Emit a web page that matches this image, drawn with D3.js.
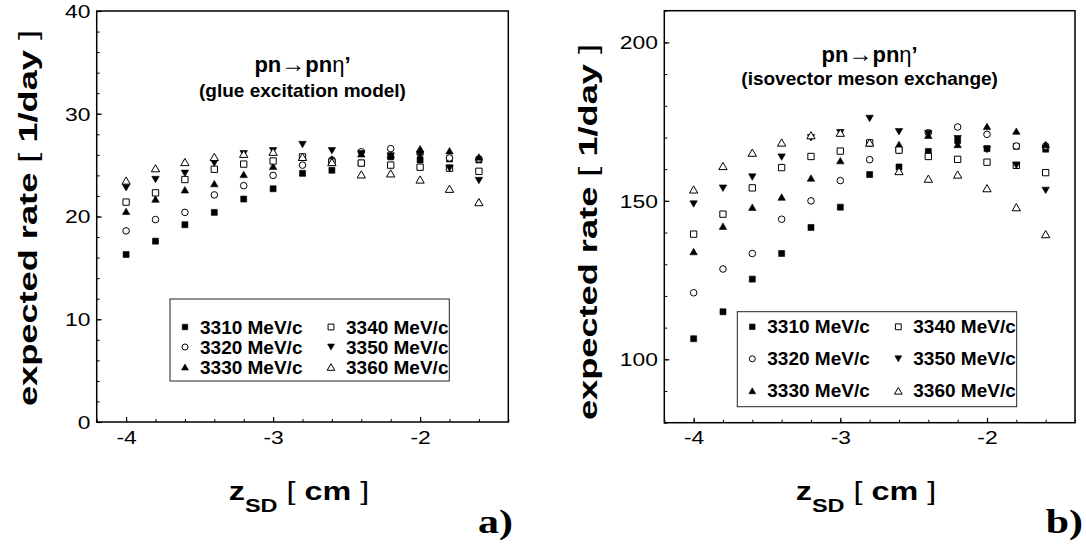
<!DOCTYPE html>
<html><head><meta charset="utf-8">
<script src="https://cdn.jsdelivr.net/npm/d3@7"></script>
<style>body{margin:0;background:#fff;} svg{display:block;background:#fff}</style>
</head><body>
<svg id="c" width="1086" height="547"></svg>
<script>
// ---------- data ----------
const zSD = [-4.0, -3.8, -3.6, -3.4, -3.2, -3.0, -2.8, -2.6, -2.4, -2.2, -2.0, -1.8, -1.6];
const beamMomenta = ["3310 MeV/c", "3320 MeV/c", "3330 MeV/c", "3340 MeV/c", "3350 MeV/c", "3360 MeV/c"];

// (a) glue excitation model
const glue3310 = [16.3, 17.6, 19.2, 20.4, 21.7, 22.7, 24.2, 24.5, 25.2, 25.8, 25.5, 25.6, 25.5];
const glue3320 = [18.6, 19.7, 20.4, 22.1, 23.0, 24.0, 25.0, 25.5, 26.3, 26.6, 26.1, 25.7, 25.6];
const glue3330 = [20.5, 21.7, 22.6, 23.2, 24.1, 24.9, 25.8, 25.6, 26.1, 26.0, 26.6, 26.4, 25.8];
const glue3340 = [21.4, 22.3, 23.6, 24.6, 25.1, 25.4, 25.8, 25.3, 25.2, 25.0, 24.8, 24.7, 24.4];
const glue3350 = [22.8, 23.6, 24.2, 25.2, 26.1, 26.4, 27.0, 26.4, 26.1, 25.9, 26.0, 24.7, 23.5];
const glue3360 = [23.5, 24.7, 25.3, 25.8, 26.1, 26.3, 25.8, 25.3, 24.1, 24.2, 23.6, 22.7, 21.4];

// (b) isovector meson exchange
const iso3310 = [106.5, 115.0, 125.3, 133.4, 141.6, 148.0, 158.3, 160.7, 165.6, 169.0, 166.5, 167.2, 166.3];
const iso3320 = [121.0, 128.5, 133.4, 144.2, 150.0, 156.4, 163.0, 166.0, 171.5, 173.3, 171.0, 167.3, 167.3];
const iso3330 = [134.0, 142.0, 148.0, 151.2, 157.2, 162.7, 168.3, 167.8, 170.7, 167.8, 173.5, 172.0, 167.8];
const iso3340 = [139.5, 145.8, 154.1, 160.5, 164.0, 165.7, 168.3, 166.0, 164.0, 163.1, 162.2, 161.2, 158.9];
const iso3350 = [149.0, 154.0, 157.5, 163.8, 169.9, 171.5, 176.0, 171.8, 171.2, 169.6, 166.2, 161.2, 153.3];
const iso3360 = [153.6, 161.0, 165.2, 168.4, 170.7, 171.5, 168.4, 159.4, 157.0, 158.3, 154.0, 148.0, 139.5];

const xTickLabels = [-4, -3, -2];
const yTicksGlue = [0, 10, 20, 30, 40];
const yTicksIso = [100, 150, 200];

// ---------- drawing ----------
const svg = d3.select("#c");
const SANS = "Arial, 'Liberation Sans', Helvetica, sans-serif";
const SERIF = "'Liberation Serif', 'Times New Roman', serif";
const STRETCH = 1.27;

const markerDefs = [
  {type: d3.symbolSquare,   size: 36, fill: true,  rot: 0},
  {type: d3.symbolCircle,   size: 34, fill: false, rot: 0},
  {type: d3.symbolTriangle, size: 24, fill: true,  rot: 0},
  {type: d3.symbolSquare,   size: 40, fill: false, rot: 0},
  {type: d3.symbolTriangle, size: 24, fill: true,  rot: 180},
  {type: d3.symbolTriangle, size: 30, fill: false, rot: 0}
];

function drawMarker(g, m, cx, cy, scale) {
  const s = m.size * (scale || 1);
  let off = 0;
  if (m.type === d3.symbolTriangle) {
    const yy = Math.sqrt(s / (3 * Math.sqrt(3)));
    off = yy / 2;
  }
  g.append("path")
    .attr("d", d3.symbol().type(m.type).size(s)())
    .attr("transform", `translate(${cx},${cy}) rotate(${m.rot}) translate(0,${off})`)
    .attr("fill", m.fill ? "#000" : "#fff")
    .attr("stroke", "#000")
    .attr("stroke-width", m.fill ? 0.6 : 1);
}

function drawPanel(cfg) {
  const g = svg.append("g");
  const x = d3.scaleLinear().domain([-4.2, -1.4]).range([cfg.left, cfg.right]);
  const y = d3.scaleLinear().domain(cfg.yDomain).range([cfg.bottom, cfg.top]);

  // minor ticks
  const xMinor = d3.range(-4.2, -1.39, 0.2).map(v => +v.toFixed(1));
  g.append("g").attr("transform", `translate(0,${cfg.bottom})`)
    .call(d3.axisBottom(x).tickValues(xMinor).tickSize(-3).tickFormat(""))
    .call(a => a.select(".domain").remove())
    .selectAll("line").attr("stroke", "#000").attr("stroke-width", 1);
  const yMinor = d3.range(cfg.yDomain[0], cfg.yDomain[1] + 0.001, cfg.yMinorStep);
  g.append("g").attr("transform", `translate(${cfg.left},0)`)
    .call(d3.axisLeft(y).tickValues(yMinor).tickSize(-3).tickFormat(""))
    .call(a => a.select(".domain").remove())
    .selectAll("line").attr("stroke", "#000").attr("stroke-width", 1);

  // major ticks + labels
  const xa = g.append("g").attr("transform", `translate(0,${cfg.bottom})`)
    .call(d3.axisBottom(x).tickValues(xTickLabels).tickSize(-5).tickPadding(9).tickFormat(d => String(d)))
    .call(a => a.select(".domain").remove());
  xa.selectAll("line").attr("stroke", "#000").attr("stroke-width", 1.2);
  xa.selectAll("text").attr("font-family", SANS).attr("font-size", 18).attr("fill", "#000")
    .attr("transform", `scale(${STRETCH},1)`);

  const ya = g.append("g").attr("transform", `translate(${cfg.left},0)`)
    .call(d3.axisLeft(y).tickValues(cfg.yMajor).tickSize(-5).tickPadding(5).tickFormat(d => String(d)))
    .call(a => a.select(".domain").remove());
  ya.selectAll("line").attr("stroke", "#000").attr("stroke-width", 1.2);
  ya.selectAll("text").attr("font-family", SANS).attr("font-size", 18).attr("fill", "#000")
    .attr("dy", "0.36em")
    .attr("transform", `scale(${STRETCH},1)`);

  // frame
  g.append("rect")
    .attr("x", cfg.left).attr("y", cfg.top)
    .attr("width", cfg.right - cfg.left).attr("height", cfg.bottom - cfg.top)
    .attr("fill", "none").attr("stroke", "#000").attr("stroke-width", 1.5);

  // data markers
  const mg = g.append("g");
  cfg.series.forEach((vals, i) => {
    vals.forEach((v, j) => drawMarker(mg, markerDefs[i], x(zSD[j]), y(v), 1));
  });

  // titles
  const cx = (cfg.left + cfg.right) / 2;
  const t1 = g.append("text").attr("x", cx).attr("y", cfg.titleY)
    .attr("text-anchor", "middle").attr("font-family", SANS).attr("font-size", 22)
    .attr("font-weight", "bold");
  t1.append("tspan").text("pn");
  t1.append("tspan").attr("font-weight", "normal").attr("font-size", 24).text("\u2192");
  t1.append("tspan").text("pn");
  t1.append("tspan").attr("font-weight", "normal").text("\u03b7");
  t1.append("tspan").text("\u2019");
  g.append("text").attr("x", cx).attr("y", cfg.subY)
    .attr("text-anchor", "middle").attr("font-family", SANS).attr("font-size", 19)
    .attr("font-weight", "bold").text(cfg.subtitle);

  // legend
  const L = cfg.legend;
  const lg = g.append("g");
  lg.append("rect").attr("x", L.x).attr("y", L.y).attr("width", L.w).attr("height", L.h)
    .attr("fill", "#fff").attr("stroke", "#222").attr("stroke-width", 1);
  beamMomenta.forEach((lab, i) => {
    const col = Math.floor(i / 3), row = i % 3;
    const bx = L.col[col], by = L.row0 + row * L.dy;
    drawMarker(lg, markerDefs[i], bx, by - 6.5, 0.85);
    lg.append("text").attr("x", bx + 15).attr("y", by)
      .attr("font-family", SANS).attr("font-size", 19).attr("font-weight", "bold")
      .attr("fill", "#000").text(lab);
  });

  // y axis label
  const yl = g.append("g").attr("transform", `translate(${cfg.yLab[0]},${cfg.yLab[1]}) rotate(-90) scale(1.42,1)`)
    .append("text").attr("text-anchor", "middle").attr("font-family", SANS)
    .attr("font-size", 25.5).attr("font-weight", "bold").attr("fill", "#000");
  yl.append("tspan").text("expected rate ");
  yl.append("tspan").attr("font-weight", "normal").text("[");
  yl.append("tspan").text(" 1/day ");
  yl.append("tspan").attr("font-weight", "normal").text("]");

  // x axis label
  const xl = g.append("g").attr("transform", `translate(${cfg.xLab[0]},${cfg.xLab[1]}) scale(${STRETCH},1)`)
    .append("text").attr("text-anchor", "middle").attr("font-family", SANS)
    .attr("font-size", 25.5).attr("font-weight", "bold").attr("fill", "#000");
  xl.append("tspan").text("z");
  xl.append("tspan").attr("font-size", 18.5).attr("dy", 11.5).text("SD");
  xl.append("tspan").attr("dy", -11.5).attr("font-weight", "normal").text(" [ ");
  xl.append("tspan").text("cm");
  xl.append("tspan").attr("font-weight", "normal").text(" ]");

  // panel letter
  g.append("g").attr("transform", `translate(${cfg.letter[0]},${cfg.letter[1]}) scale(${STRETCH},1)`)
    .append("text").attr("text-anchor", "end").attr("font-family", SERIF)
    .attr("font-size", 33).attr("font-weight", "bold").attr("fill", "#000").text(cfg.letterText);
}

drawPanel({
  left: 96.7, right: 508.3, top: 11, bottom: 422,
  yDomain: [0, 40], yMajor: yTicksGlue, yMinorStep: 2,
  series: [glue3310, glue3320, glue3330, glue3340, glue3350, glue3360],
  titleY: 71.5, subY: 96.5, subtitle: "(glue excitation model)",
  legend: {x: 170, y: 299, w: 279.3, h: 82, col: [185, 331], row0: 333.5, dy: 20},
  yLab: [37, 218], xLab: [299, 500], letter: [513, 533], letterText: "a)"
});

drawPanel({
  left: 664.3, right: 1075, top: 10.7, bottom: 422.7,
  yDomain: [80, 210], yMajor: yTicksIso, yMinorStep: 10,
  series: [iso3310, iso3320, iso3330, iso3340, iso3350, iso3360],
  titleY: 61.5, subY: 85, subtitle: "(isovector meson exchange)",
  legend: {x: 737.3, y: 311.7, w: 279.4, h: 95, col: [752.3, 898.3], row0: 333.3, dy: 32},
  yLab: [597, 232], xLab: [866, 500], letter: [1083, 533], letterText: "b)"
});
</script>
</body></html>
